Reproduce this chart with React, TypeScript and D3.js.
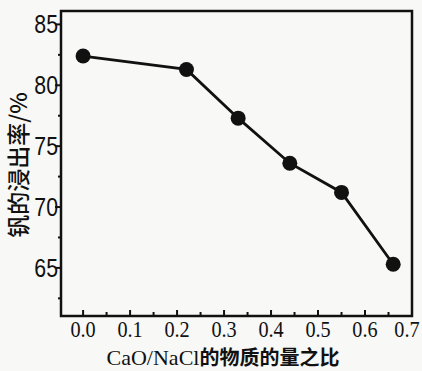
import React, { useRef, useEffect } from "react";
import * as d3 from "d3";

const ratios = [0.0, 0.22, 0.33, 0.44, 0.55, 0.66];
const leachRates = [82.4, 81.3, 77.3, 73.6, 71.2, 65.3];
const xTickLabels = ["0.0", "0.1", "0.2", "0.3", "0.4", "0.5", "0.6", "0.7"];
const yTickLabels = [65, 70, 75, 80, 85];
const xTitleLatin = "CaO/NaCl";
const xTitleCjk = "的物质的量之比";
const yTitle = "钒的浸出率/%";

const W = 422;
const H = 371;
const frame = { left: 61, right: 412, top: 11, bottom: 316 };

const App = () => {
  const svgRef = useRef<SVGSVGElement>(null);

  useEffect(() => {
    const svg = d3.select(svgRef.current);
    svg.selectAll("*").remove();

    const x = d3.scaleLinear().domain([-0.047, 0.7]).range([frame.left, frame.right]);
    const y = d3.scaleLinear().domain([61.05, 86.1]).range([frame.bottom, frame.top]);

    svg.append("rect").attr("width", W).attr("height", H).attr("fill", "#f8f8f6");

    // y ticks (outward), major + minor
    const yMinor = d3.range(62.5, 85, 5);
    const yAxis = svg.append("g").attr("stroke", "#111").attr("stroke-width", 2);
    yAxis.selectAll(".maj").data(yTickLabels).enter().append("line")
      .attr("x1", frame.left - 6).attr("x2", frame.left)
      .attr("y1", (d) => y(d)).attr("y2", (d) => y(d));
    yAxis.selectAll(".min").data(yMinor).enter().append("line")
      .attr("x1", frame.left - 3).attr("x2", frame.left)
      .attr("y1", (d) => y(d)).attr("y2", (d) => y(d));

    // narrow-looking sans digits, squeezed horizontally
    svg.append("g").selectAll("text").data(yTickLabels).enter().append("text")
      .attr("transform", (d) => `translate(${frame.left - 3},${y(d) + 9}) scale(0.82,1)`)
      .attr("text-anchor", "end")
      .attr("font-family", "'Liberation Sans', Arial, sans-serif")
      .attr("font-size", 26)
      .attr("fill", "#111")
      .text((d) => d);

    // x ticks (inward), every 0.05
    const xTicks = d3.range(0, 14).map((i) => i * 0.05);
    svg.append("g").attr("stroke", "#111").attr("stroke-width", 2)
      .selectAll("line").data(xTicks).enter().append("line")
      .attr("x1", (d) => x(d)).attr("x2", (d) => x(d))
      .attr("y1", frame.bottom).attr("y2", (d, i) => frame.bottom - (i % 2 === 0 ? 6 : 4));

    svg.append("g").selectAll("text").data(xTickLabels).enter().append("text")
      .attr("transform", (d) => `translate(${Math.min(x(+d), W - 15)},337) scale(0.88,1)`)
      .attr("text-anchor", "middle")
      .attr("font-family", "'Liberation Serif', 'Times New Roman', serif")
      .attr("font-size", 23)
      .attr("fill", "#111")
      .text((d) => d);

    // frame
    svg.append("rect")
      .attr("x", frame.left).attr("y", frame.top)
      .attr("width", frame.right - frame.left).attr("height", frame.bottom - frame.top)
      .attr("fill", "none").attr("stroke", "#111").attr("stroke-width", 2.5);

    const pts = ratios.map((r, i) => [r, leachRates[i]] as [number, number]);
    const line = d3.line<[number, number]>().x((d) => x(d[0])).y((d) => y(d[1]));
    svg.append("path").datum(pts)
      .attr("fill", "none").attr("stroke", "#111").attr("stroke-width", 2.8)
      .attr("d", line);
    svg.append("g").selectAll("circle").data(pts).enter().append("circle")
      .attr("cx", (d) => x(d[0])).attr("cy", (d) => y(d[1]))
      .attr("r", 7.5).attr("fill", "#111");

    // axis titles
    const xt = svg.append("text")
      .attr("x", 223).attr("y", 365)
      .attr("text-anchor", "middle")
      .attr("fill", "#111");
    xt.append("tspan")
      .attr("font-family", "'Liberation Serif', 'Times New Roman', serif")
      .attr("font-size", 22)
      .text(xTitleLatin);
    xt.append("tspan")
      .attr("font-family", "'Noto Sans CJK SC', sans-serif")
      .attr("font-weight", "bold")
      .attr("font-size", 20)
      .text(xTitleCjk);

    svg.append("text")
      .attr("transform", `translate(17, 165) rotate(-90)`)
      .attr("text-anchor", "middle")
      .attr("dominant-baseline", "central")
      .attr("font-family", "'Noto Sans CJK SC', sans-serif")
      .attr("font-weight", 500)
      .attr("font-size", 23)
      .attr("fill", "#111")
      .text(yTitle);
  }, []);

  return (
    <svg ref={svgRef} width={W} height={H}
      style={{ position: "absolute", left: 0, top: 0, display: "block" }} />
  );
};

export default App;
